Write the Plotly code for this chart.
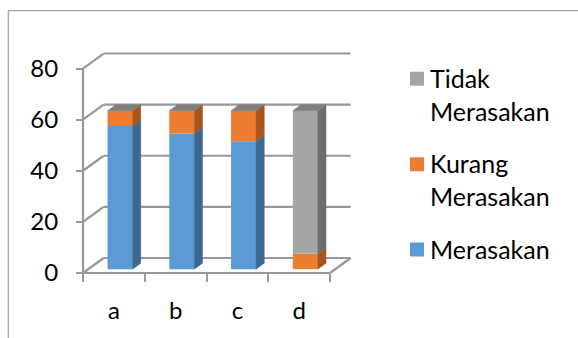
import plotly.graph_objects as go

# ---- data -------------------------------------------------------------
categories = ["a", "b", "c", "d"]
merasakan = [56, 53, 50, 0]
kurang_merasakan = [6, 9, 12, 6]
tidak_merasakan = [0, 0, 0, 56]
series_names = ["Merasakan", "Kurang Merasakan", "Tidak Merasakan"]
legend_labels = ["Merasakan", "Kurang<br>Merasakan", "Tidak<br>Merasakan"]
y_ticks = [0, 20, 40, 60, 80]

# ---- styling ----------------------------------------------------------
FRONT = ["#5B9BD5", "#ED7D31", "#A5A5A5"]
SIDE = ["#3D6892", "#A8561E", "#6E6E6E"]
TOP = "#7F7F7F"
GRID = "#989898"
FONT = "Lato"

W, H = 578, 338
ML, MR, MT, MB = 60, 210, 30, 40
PW, PH = W - ML - MR, H - MT - MB

# pixel scale of the value / category axes and the origin of the front corner
PX_X, PX_Y = 61.75, 2.556
ORIGIN_PX, ORIGIN_PY = 83, 273

x_min = -0.5 - (ORIGIN_PX - ML) / PX_X
y_min = -((H - MB) - ORIGIN_PY) / PX_Y
x_range = [x_min, x_min + PW / PX_X]
y_range = [y_min, y_min + PH / PX_Y]


def paper_x(px):
    return (px - ML) / PW


def paper_y(py):
    return ((H - MB) - py) / PH


# oblique depth of the back wall and of the bars (axis units)
WALL_DX, WALL_DY = 20.6 / PX_X, 15.0 / PX_Y
BAR_SHIFT, BAR_LIFT = 0.1, 1.5
BAR_W = 0.405
BAR_DX, BAR_DY = 8.2 / PX_X, 6.0 / PX_Y

n = len(categories)
xs = list(range(n))
values = [merasakan, kurang_merasakan, tidak_merasakan]

fig = go.Figure()

# ---- walls, floor and gridlines ---------------------------------------
shapes = []
line = dict(color=GRID, width=2.2)
x_left, x_right = -0.5, n - 0.5
for v in y_ticks:
    shapes.append(dict(type="line", xref="x", yref="y", layer="below",
                       x0=x_left + WALL_DX, y0=v + WALL_DY,
                       x1=x_right + WALL_DX, y1=v + WALL_DY, line=line))
    shapes.append(dict(type="line", xref="x", yref="y", layer="below",
                       x0=x_left, y0=v, x1=x_left + WALL_DX, y1=v + WALL_DY,
                       line=line))
shapes.append(dict(type="line", xref="x", yref="y", layer="below",
                   x0=x_left, y0=0, x1=x_left, y1=max(y_ticks), line=line))
shapes.append(dict(type="line", xref="x", yref="y", layer="below",
                   x0=x_left, y0=0, x1=x_right, y1=0, line=line))
shapes.append(dict(type="line", xref="x", yref="y", layer="below",
                   x0=x_right, y0=0, x1=x_right + WALL_DX, y1=WALL_DY,
                   line=line))

# chart-area border
shapes.append(dict(type="rect", xref="paper", yref="paper",
                   x0=paper_x(8.3), y0=paper_y(360), x1=paper_x(600),
                   y1=paper_y(10.7), line=dict(color="#A3A3A3", width=1.2)))

# ---- bars: front faces ------------------------------------------------
bases = [[BAR_LIFT] * n]
for s in range(1, len(values)):
    bases.append([b + v for b, v in zip(bases[-1], values[s - 1])])
bar_x = [x + BAR_SHIFT for x in xs]

for s, name in enumerate(series_names):
    fig.add_trace(go.Bar(
        x=bar_x, y=values[s], base=bases[s], width=BAR_W, name=name,
        marker=dict(color=FRONT[s], line=dict(width=0)),
        showlegend=False, hoverinfo="skip"))

# ---- bars: side faces -------------------------------------------------
for s, name in enumerate(series_names):
    px_, py_ = [], []
    for i in range(n):
        if values[s][i] <= 0:
            continue
        xr = bar_x[i] + BAR_W / 2
        b = bases[s][i]
        t = b + values[s][i]
        px_ += [xr, xr + BAR_DX, xr + BAR_DX, xr, xr, None]
        py_ += [b, b + BAR_DY, t + BAR_DY, t, b, None]
    fig.add_trace(go.Scatter(
        x=px_, y=py_, mode="lines", fill="toself", fillcolor=SIDE[s],
        line=dict(width=0.5, color=SIDE[s]), showlegend=False,
        hoverinfo="skip"))

# ---- bars: top faces --------------------------------------------------
tx, ty = [], []
for i in range(n):
    top = bases[-1][i] + values[-1][i]
    xl = bar_x[i] - BAR_W / 2
    xr = bar_x[i] + BAR_W / 2
    tx += [xl, xr, xr + BAR_DX, xl + BAR_DX, xl, None]
    ty += [top, top, top + BAR_DY, top + BAR_DY, top, None]
fig.add_trace(go.Scatter(
    x=tx, y=ty, mode="lines", fill="toself", fillcolor=TOP,
    line=dict(width=0.5, color=TOP), showlegend=False, hoverinfo="skip"))

# ---- legend (gray, orange, blue from top to bottom) --------------------
annotations = []
legend_tops = {2: 71.7, 1: 157.3, 0: 242.5}
for s in (2, 1, 0):
    top = legend_tops[s]
    shapes.append(dict(type="rect", xref="paper", yref="paper",
                       x0=paper_x(410), x1=paper_x(424),
                       y0=paper_y(top + 14), y1=paper_y(top),
                       fillcolor=FRONT[s], line=dict(width=0)))
    annotations.append(dict(
        xref="paper", yref="paper", x=paper_x(428), y=paper_y(top - 11),
        xanchor="left", yanchor="top", align="left", showarrow=False,
        text=legend_labels[s], font=dict(family=FONT, size=25, color="#000000")))

fig.update_layout(
    width=W, height=H,
    margin=dict(l=ML, r=MR, t=MT, b=MB),
    paper_bgcolor="white", plot_bgcolor="rgba(0,0,0,0)",
    barmode="overlay",
    shapes=shapes, annotations=annotations,
    font=dict(family=FONT, size=24, color="#000000"),
    xaxis=dict(range=x_range, anchor="free", position=paper_y(ORIGIN_PY),
               tickvals=xs, ticktext=categories, ticks="", showgrid=False,
               zeroline=False, showline=False, ticklabelstandoff=21,
               tickfont=dict(family=FONT, size=24, color="#000000"),
               minor=dict(tickmode="array", tickvals=[x - 0.5 for x in range(n + 1)],
                          ticks="outside", ticklen=8, tickwidth=2, tickcolor=GRID,
                          showgrid=False)),
    yaxis=dict(range=y_range, anchor="free", position=paper_x(ORIGIN_PX),
               tickvals=y_ticks, ticks="outside", ticklen=7, tickwidth=2,
               tickcolor=GRID, showgrid=False, zeroline=False, showline=False,
               ticklabelstandoff=13,
               tickfont=dict(family=FONT, size=24, color="#000000")),
)

fig.write_html("out.html")
